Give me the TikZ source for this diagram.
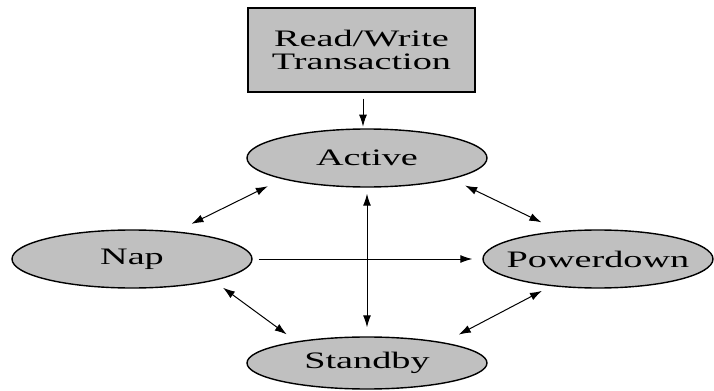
\documentclass[tikz,border=0pt]{standalone}
\usepackage{fontspec}
\newfontfamily\statefont[FakeStretch=1.62]{Liberation Serif}
\usetikzlibrary{arrows.meta, shapes.geometric}
\definecolor{stategray}{RGB}{192,192,192}

\begin{document}
\begin{tikzpicture}[
        x=0.5pt, y=-0.5pt,
        state/.style={ellipse, draw=black, line width=0.7pt, fill=stategray, minimum width=120pt, minimum height=29pt, inner xsep=-20pt, inner ysep=0pt, font=\statefont\fontsize{11.8}{12}\selectfont},
        trans/.style={rectangle, draw=black, line width=0.6pt, fill=stategray, minimum width=113.5pt, minimum height=42pt, inner xsep=0pt, align=center, font=\statefont\fontsize{11.8}{11.6}\selectfont},
        arr/.style={-{Latex[length=6pt, width=4pt]}, line width=0.5pt},
        biarr/.style={{Latex[length=6pt, width=4pt]}-{Latex[length=6pt, width=4pt]}, line width=0.5pt},
    ]
        \useasboundingbox (0,0) rectangle (714,391);

        % Transaction box on top
        \node[trans] (rw) at (361.5,50) {Read/Write\\Transaction};

        % Power states
        \node[state] (active) at (367,158) {Active};
        \node[state] (nap) at (132,259) {Nap};
        \node[state, minimum width=115pt] (pdn) at (598,259) {Powerdown};
        \node[state, minimum height=26pt] (stby) at (367,363) {Standby};

        % Transaction wakes the device
        \draw[arr, shorten <=3pt, shorten >=1pt] (rw.south) ++(1.5,0) -- ++(0,36);

        % Transitions between states
        \draw[biarr, shorten <=8.5pt, shorten >=8pt] (nap.32) -- (active.194);
        \draw[biarr, shorten <=7.4pt, shorten >=10pt] (active.346) -- (pdn.144);
        \draw[arr, shorten <=3pt, shorten >=5pt] (nap) -- (pdn);
        \draw[biarr, shorten <=3pt, shorten >=4.5pt] (active) -- (stby);
        \draw[biarr, shorten <=5.8pt, shorten >=5.9pt] (nap.345) -- (stby.163);
        \draw[biarr, shorten <=5.1pt, shorten >=8.4pt] (pdn.210) -- (stby.15);
    \end{tikzpicture}
\end{document}
